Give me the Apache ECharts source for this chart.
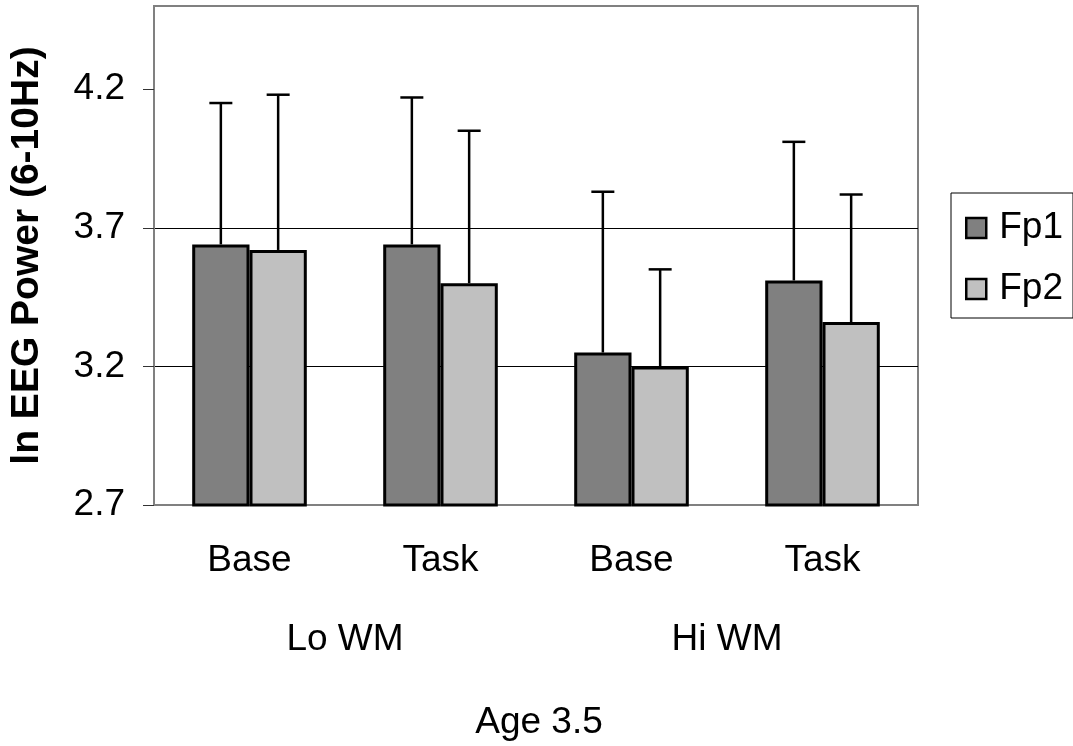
<!DOCTYPE html>
<html>
<head>
<meta charset="utf-8">
<script src="https://cdn.jsdelivr.net/npm/echarts@6/dist/echarts.min.js"></script>
<style>
html,body{margin:0;padding:0;background:#fff;}
#chart{width:1073px;height:746px;}
</style>
</head>
<body>
<div id="chart"></div>
<script>
var categories = ['Base', 'Task', 'Base', 'Task'];
var groups = ['Lo WM', 'Hi WM'];
var seriesNames = ['Fp1', 'Fp2'];
var fp1Values = [3.64, 3.64, 3.25, 3.51];
var fp1Errors = [0.51, 0.53, 0.58, 0.50];
var fp2Values = [3.62, 3.50, 3.20, 3.36];
var fp2Errors = [0.56, 0.55, 0.35, 0.46];
var yTicks = [2.7, 3.2, 3.7, 4.2];

var FONT = 'Liberation Sans, Arial, sans-serif';
var FS = 37;
var BARW = 0.30;

function errData(vals, errs) {
  return vals.map(function (v, i) { return [i, v, v + errs[i]]; });
}

function makeErr(sign) {
  return function (params, api) {
    var idx = api.value(0);
    var band = api.size([1, 0])[0];
    var off = sign * band * BARW / 2;
    var lo = api.coord([idx, api.value(1)]);
    var hi = api.coord([idx, api.value(2)]);
    var x = lo[0] + off;
    var style = { stroke: '#000', lineWidth: 2.5 };
    return {
      type: 'group',
      children: [
        { type: 'line', shape: { x1: x, y1: lo[1], x2: x, y2: hi[1] }, style: style },
        { type: 'line', shape: { x1: x - 11.5, y1: hi[1], x2: x + 11.5, y2: hi[1] }, style: style }
      ]
    };
  };
}

var chart = echarts.init(document.getElementById('chart'));
chart.setOption({
  animation: false,
  backgroundColor: '#fff',
  textStyle: { fontFamily: FONT, color: '#000' },
  grid: {
    left: 154, right: 155, top: 6, bottom: 241, show: true,
    borderColor: '#808080', borderWidth: 2, containLabel: false, outerBoundsMode: 'none'
  },
  legend: {
    data: seriesNames.map(function (n) { return { name: n, icon: 'rect' }; }),
    orient: 'vertical',
    left: 951,
    top: 193,
    itemWidth: 20,
    itemHeight: 20,
    itemGap: 21,
    padding: [15, 10, 9, 14],
    borderColor: '#000',
    borderWidth: 1,
    itemStyle: { borderColor: '#000', borderWidth: 2.5 },
    textStyle: { fontFamily: FONT, fontSize: FS, color: '#000', lineHeight: 40, padding: [0, 0, 0, 8] },
    selectedMode: false
  },
  xAxis: [
    {
      type: 'category',
      data: categories,
      position: 'bottom',
      axisLine: { show: true, lineStyle: { color: '#808080', width: 2 } },
      axisTick: { show: false },
      axisLabel: { fontFamily: FONT, fontSize: FS, color: '#000', margin: 37 },
      splitLine: { show: false }
    },
    {
      type: 'category',
      data: groups,
      position: 'bottom',
      axisLine: { show: false },
      axisTick: { show: false },
      axisLabel: { fontFamily: FONT, fontSize: FS, color: '#000', margin: 116 },
      splitLine: { show: false },
      name: 'Age 3.5',
      nameLocation: 'middle',
      nameGap: 199,
      nameTextStyle: { fontFamily: FONT, fontSize: FS, color: '#000', padding: [0, 0, 0, 6] }
    }
  ],
  yAxis: {
    type: 'value',
    min: 2.7,
    max: 4.5,
    interval: 0.5,
    name: 'ln EEG Power (6-10Hz)',
    nameLocation: 'middle',
    nameGap: 107,
    nameTextStyle: { fontFamily: FONT, fontSize: 39, fontWeight: 'bold', color: '#000' },
    axisLine: { show: true, lineStyle: { color: '#808080', width: 2 } },
    axisTick: { show: true, length: 11, customValues: yTicks, lineStyle: { color: '#333', width: 1 } },
    axisLabel: {
      fontFamily: FONT, fontSize: FS, color: '#000', margin: 29,
      customValues: yTicks,
      formatter: function (v) { return Number(v).toFixed(1); }
    },
    splitLine: { show: true, showMinLine: false, showMaxLine: false, lineStyle: { color: '#000', width: 1 } }
  },
  series: [
    {
      name: seriesNames[0], type: 'bar', data: fp1Values, barWidth: (BARW * 100) + '%', barGap: '0%',
      itemStyle: { color: '#808080', borderColor: '#000', borderWidth: 3 }, z: 3
    },
    {
      name: seriesNames[1], type: 'bar', data: fp2Values, barWidth: (BARW * 100) + '%', barGap: '0%',
      itemStyle: { color: '#c0c0c0', borderColor: '#000', borderWidth: 3 }, z: 3
    },
    {
      name: 'Fp1 err', type: 'custom', renderItem: makeErr(-1), data: errData(fp1Values, fp1Errors),
      encode: { x: 0, y: [1, 2] }, z: 2, silent: true
    },
    {
      name: 'Fp2 err', type: 'custom', renderItem: makeErr(1), data: errData(fp2Values, fp2Errors),
      encode: { x: 0, y: [1, 2] }, z: 2, silent: true
    }
  ]
});
</script>
</body>
</html>
